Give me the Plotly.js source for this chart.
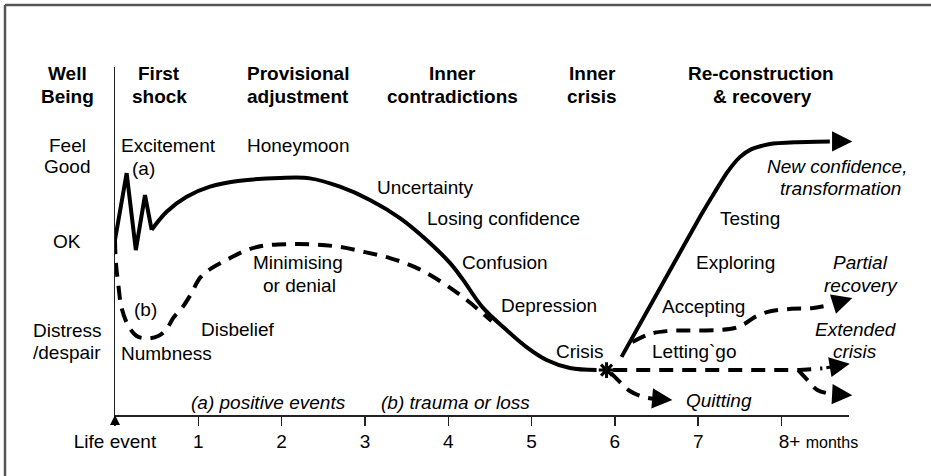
<!DOCTYPE html>
<html><head><meta charset="utf-8">
<script src="https://cdn.plot.ly/plotly-3.0.1.min.js"></script>
<style>html,body{margin:0;padding:0;background:#fff}#chart{width:931px;height:476px}</style>
</head><body><div id="chart"></div>
<script>
// ---------- data (months on x, well-being on y: 0 = bottom, 10 = top) ----------
const shockX = [0, 0.14, 0.25, 0.36, 0.44];
const shockY = [5.03, 6.95, 4.74, 6.32, 5.32];

const positiveX = [0.44, 0.62, 0.86, 1.14, 1.50, 1.98, 2.34, 2.70, 3.06, 3.42, 3.74, 4.02, 4.17, 4.41, 4.70, 4.94, 5.18, 5.46, 5.78];
const positiveY = [5.32, 5.84, 6.27, 6.56, 6.73, 6.81, 6.80, 6.56, 6.18, 5.66, 5.03, 4.37, 3.91, 3.10, 2.44, 1.95, 1.58, 1.35, 1.29];

const traumaX = [0, 0.01, 0.04, 0.08, 0.16, 0.26, 0.38, 0.52, 0.62, 0.70, 0.82, 0.92, 1.02, 1.16, 1.36, 1.58, 1.80, 2.10, 2.40, 2.70, 3.00, 3.30, 3.60, 3.90, 4.16, 4.38, 4.52];
const traumaY = [5.03, 4.40, 3.74, 3.07, 2.56, 2.27, 2.20, 2.27, 2.47, 2.79, 3.13, 3.51, 3.94, 4.22, 4.48, 4.74, 4.87, 4.91, 4.90, 4.83, 4.68, 4.51, 4.25, 3.85, 3.42, 2.99, 2.70];

const crisisPoint = {x: [5.90], y: [1.29]};

const recoveryX = [6.08, 7.02, 7.20, 7.35, 7.50, 7.64, 7.86, 8.16, 8.58];
const recoveryY = [1.67, 5.69, 6.41, 6.98, 7.41, 7.64, 7.79, 7.84, 7.86];

const partialX = [6.21, 6.42, 6.62, 6.90, 7.22, 7.44, 7.57, 7.70, 7.88, 8.12, 8.36, 8.58];
const partialY = [2.10, 2.33, 2.41, 2.43, 2.44, 2.50, 2.64, 2.84, 2.99, 3.05, 3.07, 3.16];

const extendedX = [5.98, 8.22, 8.49];
const extendedY = [1.29, 1.29, 1.34];

const sinkingX = [8.20, 8.31, 8.43, 8.61];
const sinkingY = [1.29, 1.01, 0.72, 0.60];

const quittingX = [5.95, 6.06, 6.18, 6.34, 6.48];
const quittingY = [1.21, 0.95, 0.69, 0.52, 0.47];

// arrow tips (x, y) for recovery, partial, extended, sinking, quitting
const arrowTipX = [8.85, 8.85, 8.82, 8.85, 6.69];
const arrowTipY = [7.86, 3.36, 1.47, 0.57, 0.43];

const xTickVals = [0, 1, 2, 3, 4, 5, 6, 7, 8];
const xTickText = ['Life event', '1', '2', '3', '4', '5', '6', '7',
  '\u00a0'.repeat(14) + '8+ <span style="font-size:16px">months</span>'];

// ---------- styling / layout ----------
const FONT = 'Liberation Sans, Arial, Helvetica, sans-serif';
const INK = '#000';
const W = 931, H = 476, L = 115, R = 82, T = 67, B = 61;
const PW = W - L - R, PH = H - T - B;
const px2x = p => (p - L) / PW;
const py2y = p => (H - B - p) / PH;

const solid = {color: INK, width: 4};
const dashed = {color: INK, width: 4, dash: '14px,9px'};

const traces = [
  {x: shockX, y: shockY, mode: 'lines', line: Object.assign({shape: 'linear'}, solid)},
  {x: positiveX, y: positiveY, mode: 'lines', line: Object.assign({shape: 'spline', smoothing: 1}, solid)},
  {x: traumaX, y: traumaY, mode: 'lines', line: Object.assign({shape: 'spline', smoothing: 1}, dashed)},
  {x: recoveryX, y: recoveryY, mode: 'lines', line: Object.assign({shape: 'spline', smoothing: 0.6}, solid)},
  {x: partialX, y: partialY, mode: 'lines', line: Object.assign({shape: 'spline', smoothing: 1}, dashed)},
  {x: extendedX, y: extendedY, mode: 'lines', line: Object.assign({shape: 'linear'}, dashed)},
  {x: sinkingX, y: sinkingY, mode: 'lines', line: Object.assign({shape: 'spline', smoothing: 1}, dashed)},
  {x: quittingX, y: quittingY, mode: 'lines', line: Object.assign({shape: 'spline', smoothing: 1}, dashed)},
  {x: crisisPoint.x, y: crisisPoint.y, mode: 'markers', cliponaxis: false,
   marker: {symbol: 'asterisk-open', size: 13, color: INK, line: {color: INK, width: 3}}}
];

// text labels: [text, px-centre-x, px-centre-y]
const labels = [
  ['<b>Well</b>', 67, 73], ['<b>Being</b>', 67, 97],
  ['Feel', 67, 145], ['Good', 67, 166],
  ['OK', 67, 241],
  ['Distress', 67, 330], ['/despair', 67, 352],
  ['<b>First</b>', 159, 73], ['<b>shock</b>', 159, 97],
  ['<b>Provisional</b>', 298, 73], ['<b>adjustment</b>', 298, 97],
  ['<b>Inner</b>', 452, 73], ['<b>contradictions</b>', 452, 97],
  ['<b>Inner</b>', 592, 73], ['<b>crisis</b>', 592, 97],
  ['<b>Re-construction</b>', 761, 73], ['<b>& recovery</b>', 762, 97],
  ['Excitement', 168, 145], ['(a)', 143, 168], ['Honeymoon', 298, 145],
  ['Uncertainty', 425, 187], ['Losing confidence', 503, 218],
  ['Confusion', 505, 262], ['Depression', 549, 305], ['Crisis', 580, 351],
  ['Minimising', 298, 262], ['or denial', 299, 285],
  ['(b)', 145, 309], ['Disbelief', 238, 329], ['Numbness', 166, 353],
  ['<i>(a) positive events</i>', 268, 402], ['<i>(b) trauma or loss</i>', 455, 402],
  ['Testing', 750, 218], ['Exploring', 735, 262],
  ['<i>New confidence,</i>', 837, 166], ['<i>transformation</i>', 840, 188],
  ['<i>Partial</i>', 860, 262], ['<i>recovery</i>', 861, 285],
  ['Accepting', 703, 306],
  ['<i>Extended</i>', 856, 329], ['<i>crisis</i>', 855, 351],
  ['Letting`go', 694, 351],
  ['<i>Quitting</i>', 719, 400]
];

const annotations = labels.map(([t, x, y]) => ({
  text: t, xref: 'paper', yref: 'paper', x: px2x(x), y: py2y(y),
  xanchor: 'center', yanchor: 'middle', showarrow: false,
  font: {family: FONT, size: 19, color: INK}
}));

// arrow heads at the ends of the paths
const arrowTails = [
  [recoveryX, recoveryY], [partialX, partialY], [extendedX, extendedY],
  [sinkingX, sinkingY], [quittingX, quittingY]
];
arrowTails.forEach(([xs, ys], i) => {
  annotations.push({
    text: ' ', x: arrowTipX[i], y: arrowTipY[i], xref: 'x', yref: 'y',
    ax: xs[xs.length - 1], ay: ys[ys.length - 1], axref: 'x', ayref: 'y',
    showarrow: true, arrowhead: 2, arrowsize: 1.35, arrowwidth: 3, arrowcolor: INK, standoff: 0
  });
});
// "life event" arrow at the origin
annotations.push({
  text: ' ', x: 0, y: 0, xref: 'x', yref: 'y', ax: 0, ay: 15,
  showarrow: true, arrowhead: 2, arrowsize: 1, arrowwidth: 2, arrowcolor: INK, standoff: 0
});

const layout = {
  width: W, height: H,
  margin: {l: L, r: R, t: T, b: B, pad: 0},
  paper_bgcolor: '#fff', plot_bgcolor: '#fff',
  showlegend: false,
  font: {family: FONT, size: 19, color: INK},
  xaxis: {
    range: [0, 8.81], showline: true, linecolor: '#222', linewidth: 1.5,
    ticks: 'outside', ticklen: 9, tickwidth: 1.5, tickcolor: '#222',
    tickmode: 'array', tickvals: xTickVals, ticktext: xTickText, tickangle: 0,
    tickfont: {family: FONT, size: 19, color: INK},
    showgrid: false, zeroline: false, fixedrange: true
  },
  yaxis: {
    range: [0, 10], showline: true, linecolor: '#222', linewidth: 1.2,
    showticklabels: false, ticks: '', showgrid: false, zeroline: false, fixedrange: true
  },
  shapes: [
    {type: 'line', xref: 'paper', yref: 'paper', x0: px2x(5), y0: py2y(5), x1: px2x(931), y1: py2y(5), line: {color: '#555', width: 2.5}},
    {type: 'line', xref: 'paper', yref: 'paper', x0: px2x(5), y0: py2y(5), x1: px2x(5), y1: py2y(476), line: {color: '#555', width: 2.5}}
  ],
  annotations: annotations
};

Plotly.newPlot('chart', traces, layout, {staticPlot: true, displayModeBar: false});
</script>
</body></html>
